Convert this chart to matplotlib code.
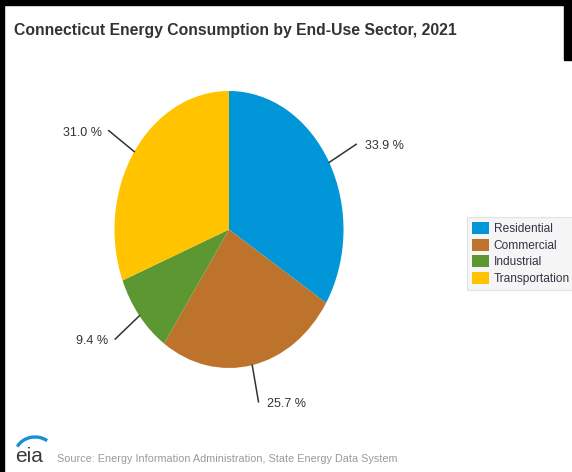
import matplotlib
matplotlib.use("Agg")
import matplotlib.pyplot as plt
import numpy as np
from matplotlib.patches import Rectangle, Arc
from matplotlib import font_manager

sectors = ["Residential", "Commercial", "Industrial", "Transportation"]
shares = [33.9, 25.7, 9.4, 31.0]
colors = ["#0096D7", "#BE732D", "#5D9732", "#FFC300"]
title = "Connecticut Energy Consumption by End-Use Sector, 2021"
source = "Source: Energy Information Administration, State Energy Data System"

names = {f.name for f in font_manager.fontManager.ttflist}
FONT = "Liberation Sans Narrow" if "Liberation Sans Narrow" in names else "Liberation Sans"
plt.rcParams["font.family"] = [FONT, "DejaVu Sans"]

W, H = 572, 472
fig = plt.figure(figsize=(W / 100, H / 100), dpi=100)
fig.patch.set_facecolor("white")

def fx(px):
    return px / W

def fy(py):
    return 1 - py / H

# black screenshot borders
fig.add_artist(Rectangle((0, fy(5)), 1, 5 / H, transform=fig.transFigure, color="black", zorder=10))
fig.add_artist(Rectangle((0, 0), fx(4), 1, transform=fig.transFigure, color="black", zorder=10))
fig.add_artist(Rectangle((fx(564), fy(60)), fx(8), 60 / H, transform=fig.transFigure, color="black", zorder=10))

# pie (elliptical)
ax = fig.add_axes([fx(114.5), fy(368), fx(229), 277 / H])
wedges, _ = ax.pie(shares, colors=colors, startangle=90, counterclock=False,
                   radius=1, wedgeprops=dict(linewidth=0))
ax.set_aspect("auto")
ax.set_xlim(-1, 1)
ax.set_ylim(-1, 1)
ax.axis("off")

cum = np.cumsum([0] + shares[:-1])
for s, c0 in zip(shares, cum):
    ang = np.deg2rad(90 - (c0 + s / 2) * 3.6)
    x0, y0 = np.cos(ang), np.sin(ang)
    k = 1.27
    x1, y1 = k * x0, k * y0
    ax.plot([x0, x1], [y0, y1], color="#333333", lw=1.1, clip_on=False)
    ha = "left" if x0 >= 0 else "right"
    dx = 9 if x0 >= 0 else -7
    ax.annotate(f"{s:.1f} %", (x1, y1), xytext=(dx, -2), textcoords="offset pixels",
                ha=ha, va="center", fontsize=9, color="#333333", annotation_clip=False)

# title
fig.text(fx(14), fy(30), title, fontsize=11.3, fontweight="bold", color="#333333",
         ha="left", va="center")

# legend
leg = fig.legend(wedges, sectors, loc="upper left", bbox_to_anchor=(fx(467), fy(217)),
                 frameon=True, fontsize=8.6, handlelength=1.4, handleheight=1.15,
                 handletextpad=0.4, labelspacing=0.3, borderpad=0.45,
                 borderaxespad=0, fancybox=False)
leg.get_frame().set_facecolor("#f3f3f3")
leg.get_frame().set_edgecolor("#dddddd")
leg.get_frame().set_linewidth(0.8)
for t in leg.get_texts():
    t.set_color("#333344")

# source + logo
fig.text(fx(57), fy(459), source, fontsize=7.8, color="#9a9a9a", ha="left", va="center")
fig.text(fx(15), fy(456), "eia", fontsize=15, color="#3a3a3a", ha="left", va="center",
         family=["Liberation Sans", "DejaVu Sans"])
fig.add_artist(Arc((fx(35), fy(455)), fx(40), 36 / H, theta1=55, theta2=150,
                   transform=fig.transFigure, color="#1a8fd6", lw=2.4))

fig.savefig("out.png", dpi=100)
